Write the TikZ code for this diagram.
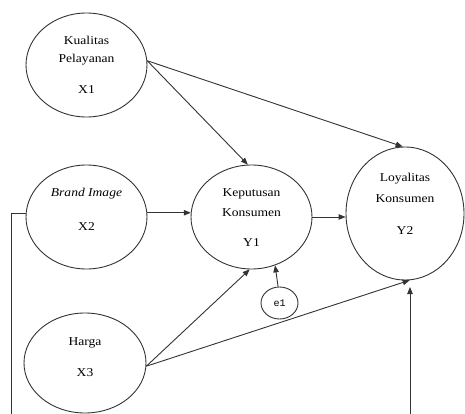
\documentclass[tikz,border=0pt]{standalone}
\usepackage{fontspec}
\setmainfont{Liberation Serif}[FakeStretch=1.13]
\newfontfamily\monofam{Liberation Mono}
\usetikzlibrary{arrows.meta,shapes.geometric}
\begin{document}
\begin{tikzpicture}[x=1pt,y=-1pt,
  lc/.style={draw=black!80,line width=0.9pt},
  var/.style={ellipse,lc,inner sep=0pt},
  txt/.style={inner sep=0pt,font=\fontsize{12}{14}\selectfont},
  arr/.style={lc,-{Triangle[length=7pt,width=5.5pt]}},
  ln/.style={lc}]
\useasboundingbox (0,0) rectangle (465,414);
% variables
\node[var,minimum width=121pt,minimum height=104pt] (X1) at (86.5,65) {};
\node[var,minimum width=121pt,minimum height=104pt] (X2) at (86.5,217) {};
\node[var,minimum width=122pt,minimum height=100pt] (X3) at (85,363) {};
\node[var,minimum width=121pt,minimum height=104pt] (Y1) at (251.5,217) {};
\node[var,minimum width=118pt,minimum height=133pt] (Y2) at (405,213.5) {};
\node[var,minimum width=37pt,minimum height=32pt] (E1) at (279.5,303) {};
% texts
\node[txt] (tx1a) at (86.5,40) {Kualitas};
\node[txt] (tx1b) at (86.5,60) {Pelayanan};
\node[txt] (tx1c) at (86.5,90) {X1};
\node[txt] (tx2a) at (86.5,194) {\itshape Brand Image};
\node[txt] (tx2b) at (86.5,227) {X2};
\node[txt] (tx3a) at (85,343) {Harga};
\node[txt] (tx3b) at (85,373) {X3};
\node[txt] (ty1a) at (251.5,194) {Keputusan};
\node[txt] (ty1b) at (251.5,213) {Konsumen};
\node[txt] (ty1c) at (251.5,243) {Y1};
\node[txt] (ty2a) at (405,179) {Loyalitas};
\node[txt] (ty2b) at (405,199) {Konsumen};
\node[txt] (ty2c) at (405,231) {Y2};
\node[inner sep=0pt,font=\monofam\fontsize{10}{12}\selectfont] (te1) at (279.5,303) {e1};
% free ends
\coordinate (lb) at (11,414);
\coordinate (rb) at (410,414);
\coordinate (rt) at (410,287);
% connectors
\draw[arr] (X1.4) -- (Y1.94);
\draw[arr] (X1.4) -- (Y2.92);
\draw[arr] (X2.4) -- (Y1.176);
\draw[arr] (Y1.east) -- (Y2.west |- Y1.east);
\draw[arr] (X3.-3) -- (Y1.-92);
\draw[arr] (X3.-3) -- (Y2.-86);
\draw[arr] (E1.95) -- (Y1.-64);
\draw[ln] (X2.177) -| (lb);
\draw[arr] (rb) -- (rt);
\end{tikzpicture}
\end{document}
